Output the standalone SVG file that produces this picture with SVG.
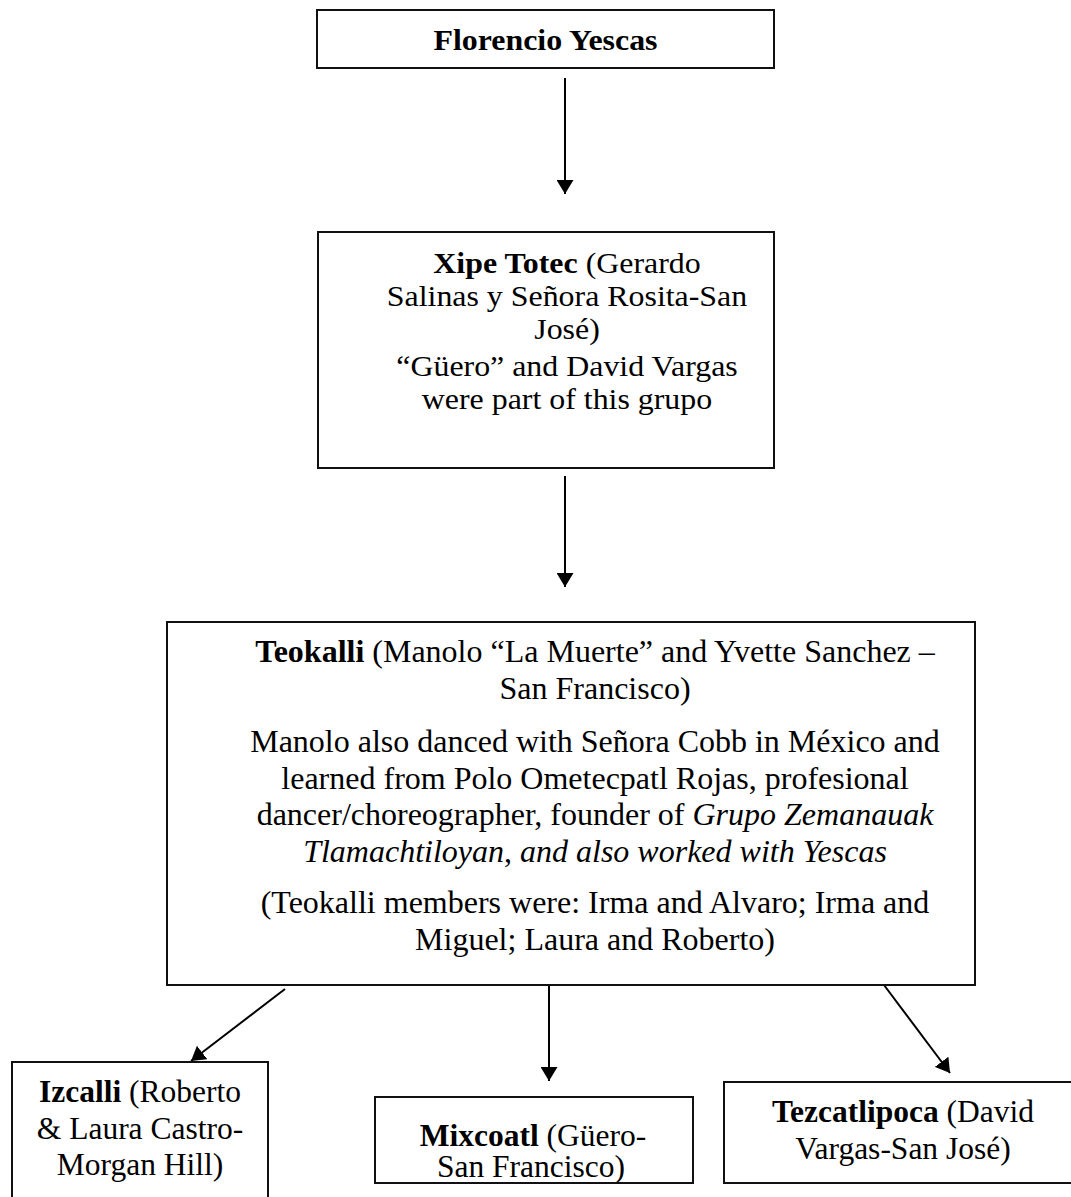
<svg xmlns="http://www.w3.org/2000/svg" width="1071" height="1197" viewBox="0 0 1071 1197">
<style>
.box{fill:#fff;stroke:#111;stroke-width:2}
.t{font-family:"Liberation Serif","Times New Roman",serif;fill:#000;text-anchor:middle}
.b{font-weight:bold}
.i{font-style:italic}
.c{stroke:#000;stroke-width:2;fill:none;marker-end:url(#ah)}
</style>
<defs>
<marker id="ah" markerUnits="userSpaceOnUse" markerWidth="15" markerHeight="17" refX="14" refY="8.5" orient="auto">
<path d="M0,0 L14,8.5 L0,17 z" fill="#000"/>
</marker>
<clipPath id="mixclip"><rect x="376" y="1098" width="316" height="84"/></clipPath>
</defs>
<rect width="1071" height="1197" fill="#fff"/>

<g id="connectors">
<line class="c" x1="565" y1="78" x2="565" y2="194"/>
<line class="c" x1="565" y1="476" x2="565" y2="587"/>
<line class="c" x1="285" y1="989" x2="191" y2="1061"/>
<line class="c" x1="549" y1="978" x2="549" y2="1081"/>
<line class="c" x1="878" y1="977" x2="950" y2="1073"/>
</g>

<g id="florencio">
<rect class="box" x="317" y="10" width="457" height="58"/>
<g transform="translate(545.5,0) scale(1.1,1) translate(-545.5,0)">
<text class="t b" x="545.5" y="50" font-size="29">Florencio Yescas</text>
</g>
</g>

<g id="xipe">
<rect class="box" x="318" y="232" width="456" height="236"/>
<g transform="translate(567,0) scale(1.1,1) translate(-567,0)" font-size="29">
<text class="t" x="567" y="273"><tspan class="b">Xipe Totec</tspan> (Gerardo</text>
<text class="t" x="567" y="306">Salinas y Señora Rosita-San</text>
<text class="t" x="567" y="339">José)</text>
<text class="t" x="567" y="376">“Güero” and David Vargas</text>
<text class="t" x="567" y="409">were part of this grupo</text>
</g>
</g>

<g id="teokalli">
<rect class="box" x="167" y="622" width="808" height="363"/>
<g font-size="32">
<text class="t" x="595" y="662"><tspan class="b">Teokalli</tspan> (Manolo “La Muerte” and Yvette Sanchez –</text>
<text class="t" x="595" y="698.5">San Francisco)</text>
<text class="t" x="595" y="752">Manolo also danced with Señora Cobb in México and</text>
<text class="t" x="595" y="788.5">learned from Polo Ometecpatl Rojas, profesional</text>
<text class="t" x="595" y="825">dancer/choreographer, founder of <tspan class="i">Grupo Zemanauak</tspan></text>
<text class="t" x="595" y="861.5"><tspan class="i">Tlamachtiloyan</tspan>, <tspan class="i">and also worked with Yescas</tspan></text>
<text class="t" x="595" y="913">(Teokalli members were: Irma and Alvaro; Irma and</text>
<text class="t" x="595" y="949.5">Miguel; Laura and Roberto)</text>
</g>
</g>

<g id="izcalli">
<rect class="box" x="12" y="1062" width="256" height="160"/>
<g font-size="31.5">
<text class="t" x="140" y="1102"><tspan class="b">Izcalli</tspan> (Roberto</text>
<text class="t" x="140" y="1138.5">&amp; Laura Castro-</text>
<text class="t" x="140" y="1175">Morgan Hill)</text>
</g>
</g>

<g id="mixcoatl">
<rect class="box" x="375" y="1097" width="318" height="86"/>
<g font-size="31.5" clip-path="url(#mixclip)">
<text class="t" x="533" y="1146"><tspan class="b">Mixcoatl</tspan> (Güero-</text>
<text class="t" x="531" y="1177">San Francisco)</text>
</g>
</g>

<g id="tezcatlipoca">
<rect class="box" x="724" y="1082" width="370" height="101"/>
<g font-size="31.5">
<text class="t" x="903" y="1122"><tspan class="b">Tezcatlipoca</tspan> (David</text>
<text class="t" x="903" y="1158.5">Vargas-San José)</text>
</g>
</g>
</svg>
